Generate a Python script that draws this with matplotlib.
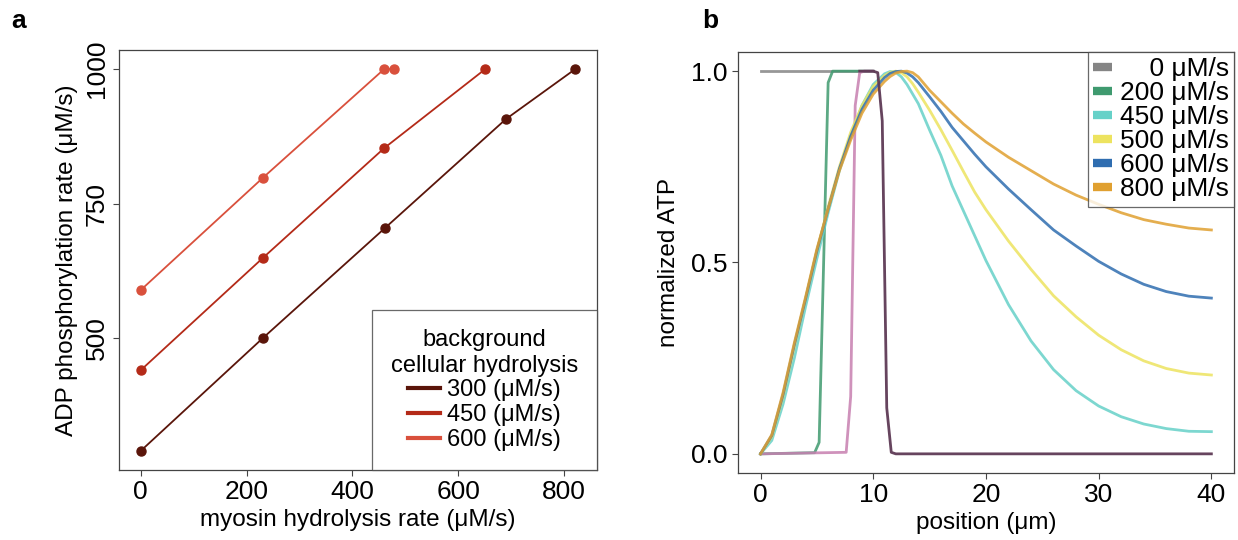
import numpy as np
import matplotlib
matplotlib.use('Agg')
import matplotlib.pyplot as plt
from matplotlib.lines import Line2D

plt.rcParams['font.family'] = ['Liberation Sans', 'DejaVu Sans']
plt.rcParams['font.size'] = 17

# ---- panel a data ----
myosin_300 = [0, 231, 461, 690, 821]
adp_300 = [290, 500, 704, 907, 1000]
myosin_450 = [0, 231, 460, 651]
adp_450 = [440, 649, 853, 1000]
myosin_600 = [0, 231, 460, 478]
adp_600 = [589, 798, 1000, 1000]
bg_labels = ['300 (μM/s)', '450 (μM/s)', '600 (μM/s)']
bg_colors = ['#5a150a', '#b42a18', '#d9503c']

# ---- panel b data ----
x_gray = [0, 10.0]
atp_gray = [1.0, 1.0]
x_green = [0, 4.8, 5.2, 5.6, 6.0, 6.4, 10.0]
atp_green = [0, 0.003, 0.03, 0.5, 0.97, 1.0, 1.0]
x_pink = [0, 7.6, 8.0, 8.4, 8.8, 9.2, 10.0]
atp_pink = [0, 0.004, 0.15, 0.91, 0.996, 1.0, 1.0]
x_purple = [8.8, 10.0, 10.4, 10.8, 11.2, 11.6, 12.0, 40]
atp_purple = [1.0, 1.0, 0.996, 0.87, 0.12, 0.004, 0, 0]

x_smooth = [0, 1, 2, 3, 4, 5, 6, 7, 8, 9, 10, 11, 11.5, 12, 12.5, 13, 13.5, 14, 15, 16, 17,
            18, 19, 20, 22, 24, 26, 28, 30, 32, 34, 36, 38, 40]
atp_450 = [0, 0.035, 0.13, 0.25, 0.385, 0.51, 0.63, 0.74, 0.83, 0.91, 0.965, 0.993, 0.999,
           0.997, 0.985, 0.965, 0.94, 0.915, 0.846, 0.78, 0.70,
           0.635, 0.57, 0.505, 0.39, 0.295, 0.22, 0.165, 0.125, 0.097, 0.078, 0.066, 0.059, 0.058]
atp_500 = [0, 0.045, 0.15, 0.28, 0.405, 0.53, 0.645, 0.75, 0.84, 0.91, 0.96, 0.988, 0.997,
           1.0, 0.996, 0.985, 0.967, 0.945, 0.898, 0.847, 0.793,
           0.738, 0.684, 0.638, 0.556, 0.482, 0.413, 0.358, 0.31, 0.272, 0.243, 0.223, 0.211, 0.206]
atp_600 = [0, 0.048, 0.155, 0.285, 0.405, 0.53, 0.64, 0.745, 0.83, 0.90, 0.95, 0.983, 0.994,
           0.999, 1.0, 0.995, 0.985, 0.97, 0.933, 0.895, 0.853,
           0.818, 0.783, 0.75, 0.692, 0.638, 0.585, 0.543, 0.503, 0.47, 0.443, 0.424, 0.412, 0.407]
atp_800 = [0, 0.05, 0.16, 0.29, 0.41, 0.535, 0.64, 0.74, 0.82, 0.89, 0.94, 0.973, 0.986,
           0.995, 0.999, 1.0, 0.996, 0.985, 0.95, 0.92, 0.89,
           0.862, 0.838, 0.815, 0.775, 0.74, 0.705, 0.676, 0.652, 0.63, 0.612, 0.6, 0.59, 0.585]

rate_labels = ['    0 μM/s', '200 μM/s', '450 μM/s', '500 μM/s', '600 μM/s', '800 μM/s']
rate_colors = ['#858585', '#3f9a6f', '#66d1c8', '#ede35f', '#2f6db0', '#e0a030']
pink_color = '#c77fb0'
purple_color = '#5e3a55'

fig = plt.figure(figsize=(12.38, 5.4), dpi=100)
ax_a = fig.add_axes([0.0961, 0.1296, 0.3861, 0.7778])
ax_b = fig.add_axes([0.5961, 0.1241, 0.4006, 0.7796])

for ax in (ax_a, ax_b):
    for sp in ax.spines.values():
        sp.set_color('#444444')
        sp.set_linewidth(0.9)
    ax.tick_params(direction='out', length=4, width=0.8, color='#444444', labelsize=19)

# panel a
for xs, ys, c, lab in zip([myosin_300, myosin_450, myosin_600],
                          [adp_300, adp_450, adp_600], bg_colors, bg_labels):
    ax_a.plot(xs, ys, '-', color=c, lw=1.3, label=lab)
    ax_a.plot(xs, ys, 'o', color=c, ms=6.5)
ax_a.set_xticks([0, 200, 400, 600, 800])
ax_a.set_yticks([500, 750, 1000])
plt.setp(ax_a.get_yticklabels(), rotation=90, va='center')
ax_a.set_xlabel('myosin hydrolysis rate (μM/s)', fontsize=17.5, labelpad=3)
ax_a.set_ylabel('ADP phosphorylation rate (μM/s)', fontsize=17.5, labelpad=5)
handles_a = [Line2D([], [], color=c, lw=3) for c in bg_colors]
leg_a = ax_a.legend(handles_a, bg_labels, loc='lower right', borderaxespad=0,
                    title='background\ncellular hydrolysis', title_fontsize=17,
                    fontsize=17, fancybox=False, frameon=True, labelspacing=0.12,
                    handlelength=1.35, handletextpad=0.3, borderpad=0.8)
leg_a.get_frame().set_edgecolor('#444444')
leg_a.get_frame().set_linewidth(0.9)
leg_a.get_title().set_multialignment('center')

# panel b
lw = 2.0
al = 0.85
ax_b.plot(x_gray, atp_gray, color=rate_colors[0], lw=lw, alpha=al)
ax_b.plot(x_green, atp_green, color=rate_colors[1], lw=lw, alpha=al)
ax_b.plot(x_pink, atp_pink, color=pink_color, lw=lw, alpha=al)
for ys, c in zip([atp_450, atp_500, atp_600, atp_800], rate_colors[2:]):
    ax_b.plot(x_smooth, ys, color=c, lw=lw, alpha=al)
ax_b.plot(x_purple, atp_purple, color=purple_color, lw=lw, alpha=0.95)

ax_b.set_xticks([0, 10, 20, 30, 40])
ax_b.set_yticks([0.0, 0.5, 1.0])
ax_b.set_yticklabels(['0.0', '0.5', '1.0'])
ax_b.set_xlabel('position (μm)', fontsize=17.5, labelpad=3)
ax_b.set_ylabel('normalized ATP', fontsize=17.5, labelpad=8)
handles_b = [Line2D([], [], color=c, lw=6, solid_capstyle='butt') for c in rate_colors]
leg_b = ax_b.legend(handles_b, rate_labels, loc='upper right', borderaxespad=0,
                    fontsize=19, fancybox=False, frameon=True, labelspacing=0.0,
                    handlelength=0.7, handletextpad=0.3, borderpad=0.2)
leg_b.get_frame().set_edgecolor('#444444')
leg_b.get_frame().set_linewidth(0.9)

fig.text(0.009, 0.948, 'a', fontsize=19, fontweight='bold')
fig.text(0.567, 0.948, 'b', fontsize=19, fontweight='bold')

fig.savefig('out.png', dpi=100)
